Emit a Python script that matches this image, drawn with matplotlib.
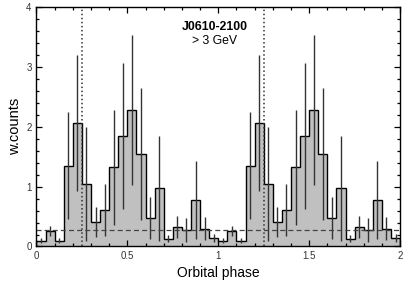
import numpy as np
import matplotlib
matplotlib.use("Agg")
import matplotlib.pyplot as plt

plt.rcParams['font.family'] = ['Liberation Sans', 'DejaVu Sans']

# weighted counts per phase bin (0.05 wide), one orbit; plotted twice
counts = [0.10, 0.26, 0.10, 1.35, 2.06, 1.05, 0.41, 0.61, 1.32, 1.85,
          2.28, 1.55, 0.48, 0.97, 0.13, 0.33, 0.28, 0.77, 0.30, 0.14]
errors = [0.05, 0.09, 0.05, 0.89, 1.14, 0.95, 0.25, 0.43, 0.96, 1.22,
          1.25, 1.10, 0.35, 0.87, 0.06, 0.18, 0.20, 0.65, 0.19, 0.07]
background = 0.27
phase_marks = [0.25, 1.25]
source = "J0610-2100"
energy = "> 3 GeV"

vals = np.array(counts * 2)
errs = np.array(errors * 2)
edges = np.linspace(0, 2, len(vals) + 1)
centers = 0.5 * (edges[:-1] + edges[1:])

fig = plt.figure(figsize=(4.09, 2.83), dpi=100)
ax = fig.add_axes([0.0892, 0.129, 0.889, 0.847])

ax.stairs(vals, edges, fill=True, color='#c0c0c0', linewidth=0)
ax.stairs(vals, edges, color='black', linewidth=1.0)
ax.errorbar(centers, vals, yerr=errs, fmt='none', ecolor='#333333',
            elinewidth=1.0, capsize=0)

ax.axhline(background, color='#444444', linestyle='--', linewidth=0.9,
           dashes=(4, 2.5))
for p in phase_marks:
    ax.axvline(p, color='#333333', linestyle=':', linewidth=1.1)

ax.text(0.98, 3.66, source, ha='center', va='center', fontsize=8.8,
        fontweight='bold')
ax.text(0.98, 3.43, energy, ha='center', va='center', fontsize=8.8)

ax.set_xlim(0, 2)
ax.set_ylim(0, 4)
ax.set_xticks([0, 0.5, 1, 1.5, 2])
ax.set_xticklabels(['0', '0.5', '1', '1.5', '2'])
ax.set_yticks([0, 1, 2, 3, 4])
ax.set_xticks(np.arange(0, 2.01, 0.1), minor=True)
ax.set_yticks(np.arange(0, 4.01, 0.2), minor=True)
ax.tick_params(which='both', direction='in', top=True, right=True,
               labelsize=7, labelcolor='#333333', width=0.9)
ax.tick_params(which='major', length=4)
ax.tick_params(which='minor', length=2.2)
for s in ax.spines.values():
    s.set_linewidth(1.0)

ax.set_xlabel("Orbital phase", fontsize=10, labelpad=3)
ax.set_ylabel("w.counts", fontsize=10.5, labelpad=3)

fig.savefig("out.png", dpi=100)
